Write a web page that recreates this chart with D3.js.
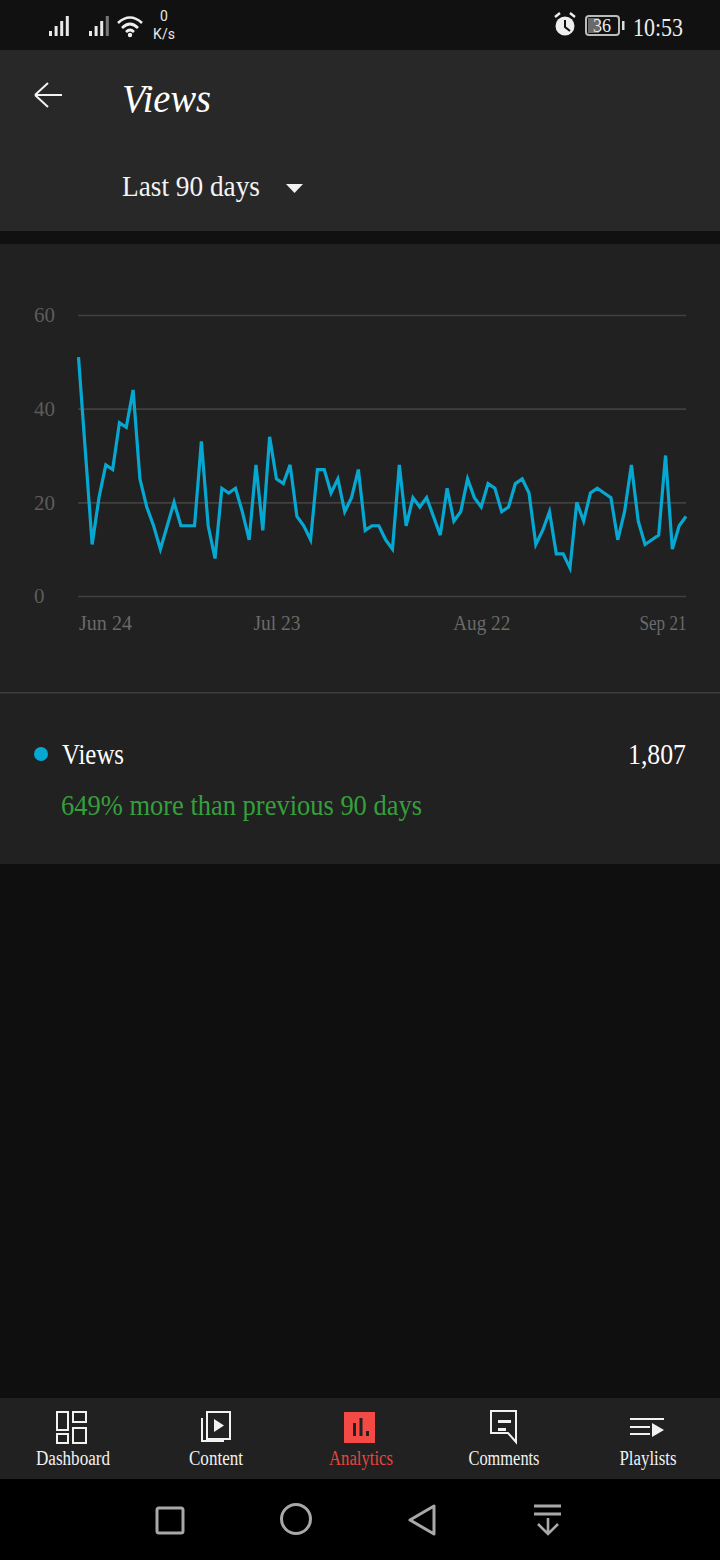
<!DOCTYPE html>
<html><head><meta charset="utf-8">
<script src="https://cdn.jsdelivr.net/npm/d3@7"></script>
<style>html,body{margin:0;padding:0;background:#111;}svg{display:block;}text{font-family:"Liberation Serif",serif;}</style>
</head><body><svg id="s" width="720" height="1560"></svg>
<script>
const views=[51,31,11,21,28,27,37,36,44,25,19,15,10,15,20,15,15,15,33,15,8,23,22,23,18,12,28,14,34,25,24,28,17,15,12,27,27,22,25,18,21,27,14,15,15,12,10,28,15,21,19,21,17,13,23,16,18,25,21,19,24,23,18,19,24,25,22,11,14,18,9,9,6,20,16,22,23,22,21,12,18,28,16,11,12,13,30,10,15,17];
const yTicks=[0,20,40,60];
const xTickIndex=[0,29,59,89];
const xTickLabels=["Jun 24","Jul 23","Aug 22","Sep 21"];
const navItems=["Dashboard","Content","Analytics","Comments","Playlists"];

const svg=d3.select("#s");
const rect=(x,y,w,h,f)=>svg.append("rect").attr("x",x).attr("y",y).attr("width",w).attr("height",h).attr("fill",f);
const text=(x,y,t,size,fill,anchor,len)=>{const e=svg.append("text").attr("x",x).attr("y",y).text(t).attr("font-size",size).attr("fill",fill).attr("text-anchor",anchor||"start");
  if(len)e.attr("textLength",len).attr("lengthAdjust","spacingAndGlyphs");return e;};
const path=(d,stroke,w,fill)=>svg.append("path").attr("d",d).attr("stroke",stroke||"none").attr("stroke-width",w||0).attr("fill",fill||"none");

rect(0,0,720,50,"#111111");
rect(0,50,720,181,"#282828");
rect(0,231,720,13,"#111111");
rect(0,244,720,620,"#212121");
rect(0,692,720,1.5,"#3c3c3c");
rect(0,864,720,534,"#0f0f0f");
rect(0,1398,720,81,"#212121");
rect(0,1479,720,81,"#000000");

// chart
const x=d3.scaleLinear().domain([0,views.length-1]).range([78.5,686]);
const y=d3.scaleLinear().domain([0,60]).range([596,315]);
const gy=svg.append("g").attr("transform","translate(78,0)")
  .call(d3.axisLeft(y).tickValues(yTicks).tickSize(-608).tickPadding(20));
gy.select(".domain").remove();
gy.selectAll(".tick line").attr("stroke","#404040").attr("stroke-width",1.6);
gy.selectAll(".tick text").attr("fill","#5c5c5c").attr("font-size",21).attr("font-family","Liberation Serif").attr("text-anchor","start").attr("x",-44).attr("dy","0.32em");
const gx=svg.append("g").attr("transform","translate(0,596)")
  .call(d3.axisBottom(x).tickValues(xTickIndex).tickFormat((d,i)=>xTickLabels[i]).tickSize(0).tickPadding(20));
gx.select(".domain").remove();
const xTickWidths=[53,47,57,47];
gx.selectAll(".tick text").attr("fill","#6a6a6a").attr("font-size",20).attr("font-family","Liberation Serif")
  .attr("text-anchor",(d,i)=>i===0?"start":i===3?"end":"middle")
  .attr("textLength",(d,i)=>xTickWidths[i]).attr("lengthAdjust","spacingAndGlyphs");
svg.append("path").datum(views).attr("fill","none").attr("stroke","#06a8d2").attr("stroke-width",3.2).attr("stroke-linejoin","miter")
  .attr("d",d3.line().x((d,i)=>x(i)).y(d=>y(d)));

// header
path("M62 95H35M35 95L48 83M35 95L48 107","#f2f2f2",2);
text(122,112,"Views",41,"#ffffff","start",89).attr("font-style","italic");
text(122,196,"Last 90 days",29,"#f4f4f4","start",138);
path("M286 184H303L294.5 193Z",null,0,"#f2f2f2");

// status bar
const bars=(bx,n)=>{for(let i=0;i<4;i++){rect(bx+i*5.6,36-(i+1)*5,3,(i+1)*5,i===3&&n?"#777":"#e8e8e8");}};
bars(49,false);bars(89,true);
path("M118 23Q130 12 142 23M122 28Q130 20 138 28M126 32Q130 28 134 32","#eee",2.6);
svg.append("circle").attr("cx",130).attr("cy",35).attr("r",2.2).attr("fill","#eee");
text(164,21,"0",14,"#e8e8e8","middle").style("font-family","Roboto");
text(164,39,"K/s",14,"#e8e8e8","middle").style("font-family","Roboto");
svg.append("circle").attr("cx",565).attr("cy",26).attr("r",9.5).attr("fill","#eee");
path("M565 20V27L570 31","#111",2);
path("M555 17L560 13M575 17L570 13","#eee",2.4);
svg.append("rect").attr("x",586).attr("y",16).attr("width",33).attr("height",19).attr("rx",3).attr("fill","none").attr("stroke","#bbb").attr("stroke-width",2);
rect(588,18,11,15,"#6a6a6a");
rect(622,21,2.5,9,"#ddd");
text(602,32,"36",18,"#eee","middle");
text(633,36,"10:53",26,"#eeeeee","start",50);

// summary
svg.append("circle").attr("cx",41).attr("cy",754).attr("r",7).attr("fill","#06a8d2");
text(62,764,"Views",29,"#ffffff","start",62);
text(686,764,"1,807",29,"#ffffff","end",58);
text(61,815,"649% more than previous 90 days",29,"#34a03c","start",361);

// nav
const navX=[73,216,361,504,648], navW=[74,54,64,71,57];
navItems.forEach((t,i)=>text(navX[i],1465,t,20,i===2?"#e8453c":"#f2f2f2","middle",navW[i]));
svg.append("g").attr("fill","none").attr("stroke","#f2f2f2").attr("stroke-width",2).selectAll("rect")
  .data([[57,1412,11,18],[73,1412,13,10],[57,1434,11,9],[73,1428,13,15]]).join("rect")
  .attr("x",d=>d[0]).attr("y",d=>d[1]).attr("width",d=>d[2]).attr("height",d=>d[3]);
svg.append("rect").attr("x",207).attr("y",1412).attr("width",23).attr("height",27).attr("fill","none").attr("stroke","#f2f2f2").attr("stroke-width",2);
path("M202 1418V1441H224","#f2f2f2",2);
path("M214 1419L224 1425.5L214 1432Z",null,0,"#f2f2f2");
rect(344,1412,31,31,"#f44a45");
rect(353,1423,3,13,"#212121");rect(359.5,1418,3,18,"#212121");rect(366,1431,3,5,"#212121");
path("M491 1411H516V1442L508 1433H491Z","#f2f2f2",2);
rect(498,1420,13,3,"#f2f2f2");rect(498,1428,8,3,"#f2f2f2");
path("M630 1419H664M630 1427H650M630 1434H650","#f2f2f2",2);
path("M652 1423L664 1430L652 1437Z",null,0,"#f2f2f2");

// system nav
const g="#a8a8a8";
svg.append("rect").attr("x",157).attr("y",1508).attr("width",26).attr("height",25).attr("rx",2).attr("fill","none").attr("stroke",g).attr("stroke-width",3);
svg.append("circle").attr("cx",296).attr("cy",1519).attr("r",14.5).attr("fill","none").attr("stroke",g).attr("stroke-width",3);
path("M434 1506V1534L410 1520Z",g,3).attr("stroke-linejoin","round");
path("M534 1506H561M534 1514H561",g,3);
path("M548 1518V1534M538 1524L548 1534L558 1524",g,2.6);
</script></body></html>
